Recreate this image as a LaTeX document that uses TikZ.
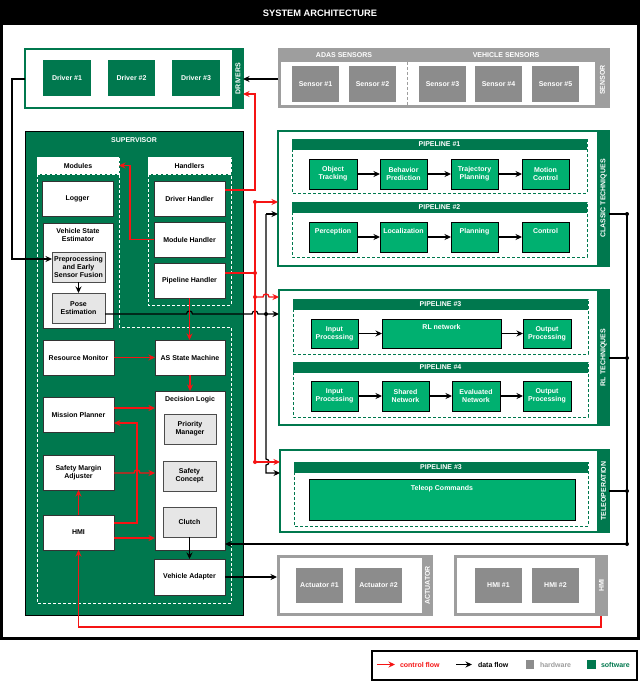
\documentclass[tikz,border=0pt]{standalone}
\usepackage{fontspec}
\setmainfont{Liberation Sans}
\usetikzlibrary{arrows.meta}
\definecolor{dgreen}{RGB}{0,120,78}
\definecolor{lgreen}{RGB}{0,176,112}
\definecolor{hwgray}{RGB}{140,140,140}
\definecolor{frgray}{RGB}{158,158,158}
\definecolor{boxgray}{RGB}{230,230,230}
\definecolor{ctrlred}{RGB}{245,20,20}
\begin{document}
\begin{tikzpicture}[x=1pt,y=-1pt,
  every node/.style={font=\bfseries\fontsize{7}{8.3}\selectfont, inner sep=0pt, outer sep=0pt, align=center},
  swbox/.style={fill=dgreen, text=white, minimum width=48pt, minimum height=36pt},
  hwbox/.style={fill=hwgray, text=white, minimum width=47pt, minimum height=36pt},
  wbox/.style={draw=black!80, fill=white, line width=0.8pt, minimum width=71pt, minimum height=35pt},
  gbox/.style={draw=black!70, fill=boxgray, line width=0.8pt, minimum width=53pt, minimum height=30pt},
  pbox/.style={draw=black, fill=lgreen, text=white, line width=0.8pt, minimum width=48pt, minimum height=30pt},
  phead/.style={fill=dgreen, text=white, minimum width=295pt, minimum height=11pt},
  gdash/.style={draw=dgreen, line width=1pt, dash pattern=on 3pt off 2pt},
  wdash/.style={draw=white, line width=1pt, dash pattern=on 3pt off 2pt},
  strip/.style={text=white, rotate=90},
  >={Stealth[length=6.5pt,width=6pt]},
  ctrl/.style={draw=ctrlred, line width=1.3pt, ->},
  cline/.style={draw=ctrlred, line width=1.3pt},
  dflow/.style={draw=black, line width=1.2pt, ->},
  dline/.style={draw=black, line width=1.2pt},
]
\useasboundingbox (0,0) rectangle (640,682);
\fill[white] (0,0) rectangle (640,682);
% outer frame and title
\fill[black] (0,0) rectangle (640,25);
\draw[line width=3pt] (1.5,1.5) rectangle (638.5,638.5);
\node[text=white, font=\bfseries\fontsize{9.3}{11}\selectfont] (title) at (320,13.5) {SYSTEM ARCHITECTURE};

% ---------- DRIVERS ----------
\node[draw=dgreen, line width=2pt, fill=white, minimum width=218pt, minimum height=59pt] (drivers) at (134,78.5) {};
\fill[dgreen] (232,48) rectangle (244,109);
\node[strip] at (238,78.5) {DRIVERS};
\node[swbox] (d1) at (67,78) {Driver \#1};
\node[swbox, minimum width=47pt] (d2) at (131.5,78) {Driver \#2};
\node[swbox] (d3) at (196,78) {Driver \#3};

% ---------- SENSORS ----------
\node[fill=frgray, minimum width=332pt, minimum height=60pt] (sensors) at (444,78) {};
\fill[white] (281,62) rectangle (595,105.5);
\draw[draw=frgray, line width=1pt, dash pattern=on 3pt off 2pt] (407,62) -- (407,105.5);
\node[text=white] (adas) at (344,55) {ADAS SENSORS};
\node[text=white] (vehs) at (506,55) {VEHICLE SENSORS};
\node[strip] at (602.5,80) {SENSOR};
\node[hwbox] (s1) at (315.5,84) {Sensor \#1};
\node[hwbox] (s2) at (372.5,84) {Sensor \#2};
\node[hwbox] (s3) at (442.5,84) {Sensor \#3};
\node[hwbox] (s4) at (498.5,84) {Sensor \#4};
\node[hwbox] (s5) at (555.5,84) {Sensor \#5};

% ---------- SUPERVISOR ----------
\node[draw=black, line width=0.8pt, fill=dgreen, minimum width=218pt, minimum height=484pt] (sup) at (134,373) {};
\node[text=white] (suplab) at (134,140) {SUPERVISOR};
\node[fill=white, wdash, minimum width=82pt, minimum height=17pt] (modhdr) at (78,165.5) {Modules};
\node[fill=white, wdash, minimum width=83pt, minimum height=17pt] (hdlhdr) at (189.5,165.5) {Handlers};
\draw[wdash] (37,174) -- (37,603) -- (231,603) -- (231,327) -- (119,327) -- (119,174);
\draw[wdash] (148,174) -- (148,305) -- (231,305) -- (231,174);

\node[wbox] (logger) at (77.5,198.5) {Logger};
\node[wbox, minimum width=70pt, minimum height=105pt,
  label={[anchor=north,yshift=-5pt]north:Vehicle State\\Estimator}] (vse) at (78,275.5) {};
\node[gbox] (prep) at (78.5,267) {Preprocessing\\and Early\\Sensor Fusion};
\node[gbox] (pose) at (78.5,308) {Pose\\Estimation};
\node[wbox] (drvh) at (189.5,198.5) {Driver Handler};
\node[wbox] (modh) at (189.5,239.5) {Module Handler};
\node[wbox] (pipeh) at (189.5,280.5) {Pipeline Handler};
\node[wbox] (rmon) at (78.5,357.5) {Resource Monitor};
\node[wbox, minimum width=70pt] (asm) at (190,357.5) {AS State Machine};
\node[wbox] (mplan) at (78.5,414.5) {Mission Planner};
\node[wbox] (sma) at (78.5,472.5) {Safety Margin\\Adjuster};
\node[wbox] (hmi) at (78.5,532.5) {HMI};
\node[wbox, minimum width=70pt, minimum height=159pt,
  label={[anchor=north,yshift=-5.5pt]north:Decision Logic}] (dlogic) at (190,470.5) {};
\node[gbox, minimum width=52pt] (prio) at (190,429) {Priority\\Manager};
\node[gbox] (safety) at (189.5,476) {Safety\\Concept};
\node[gbox] (clutch) at (189.5,522) {Clutch};
\node[wbox, minimum height=36pt] (vadapt) at (189.5,577) {Vehicle Adapter};

% ---------- CLASSIC TECHNIQUES ----------
\node[draw=dgreen, line width=2pt, fill=white, minimum width=331pt, minimum height=135pt] (classic) at (443.5,198.5) {};
\fill[dgreen] (597,130) rectangle (610,267);
\node[strip] at (603.5,198.5) {CLASSIC TECHNIQUES};
\draw[gdash] (292,139) rectangle (587,193);
\node[phead] (p1h) at (439.5,144.5) {PIPELINE \#1};
\node[pbox] (ot) at (333,174) {Object\\Tracking};
\node[pbox, minimum width=47pt] (bp) at (403.5,174) {Behavior\\Prediction};
\node[pbox, minimum width=47pt] (tp) at (474.5,174) {Trajectory\\Planning};
\node[pbox, minimum width=47pt] (mc) at (545.5,174) {Motion\\Control};
\draw[gdash] (292,202) rectangle (587,257);
\node[phead] (p2h) at (439.5,207.5) {PIPELINE \#2};
\node[pbox, label={[anchor=north,yshift=-6pt,text=white]north:Perception}] (perc) at (333,237) {};
\node[pbox, minimum width=47pt, label={[anchor=north,yshift=-6pt,text=white]north:Localization}] (loc) at (403.5,237) {};
\node[pbox, minimum width=47pt, label={[anchor=north,yshift=-6pt,text=white]north:Planning}] (plan) at (474.5,237) {};
\node[pbox, minimum width=47pt, label={[anchor=north,yshift=-6pt,text=white]north:Control}] (ctl) at (545.5,237) {};

% ---------- RL TECHNIQUES ----------
\node[draw=dgreen, line width=2pt, fill=white, minimum width=330pt, minimum height=135pt] (rl) at (444,357.5) {};
\fill[dgreen] (597,289) rectangle (610,426);
\node[strip] at (603.5,357.5) {RL TECHNIQUES};
\draw[gdash] (293,299) rectangle (588,354);
\node[phead] (p3h) at (440.5,304) {PIPELINE \#3};
\node[pbox, minimum width=47pt, minimum height=29pt] (ip1) at (334.5,333.5) {Input\\Processing};
\node[pbox, minimum width=119pt, minimum height=29pt, label={[anchor=north,yshift=-5.5pt,text=white]north:RL network}] (rlnet) at (441.5,333.5) {};
\node[pbox, minimum height=29pt] (op1) at (547,333.5) {Output\\Processing};
\draw[gdash] (293,362) rectangle (588,417);
\node[phead] (p4h) at (440.5,367.5) {PIPELINE \#4};
\node[pbox, minimum width=47pt] (ip2) at (334.5,396) {Input\\Processing};
\node[pbox, minimum width=47pt] (sn) at (405.5,396) {Shared\\Network};
\node[pbox] (en) at (476,396) {Evaluated\\Network};
\node[pbox] (op2) at (547,396) {Output\\Processing};

% ---------- TELEOPERATION ----------
\node[draw=dgreen, line width=2pt, fill=white, minimum width=329pt, minimum height=82pt] (teleop) at (444.5,491) {};
\fill[dgreen] (597,449) rectangle (610,533);
\node[strip] at (603.5,491) {TELEOPERATION};
\draw[gdash] (294,462) rectangle (588,526);
\node[phead, minimum width=294pt] (p5h) at (441,467.5) {PIPELINE \#3};
\node[pbox, minimum width=266pt, minimum height=41pt, label={[anchor=north,yshift=-6pt,text=white]north:Teleop Commands}] (tcmd) at (442,499.5) {};

% ---------- ACTUATOR ----------
\node[fill=frgray, minimum width=156pt, minimum height=61pt] (actuator) at (355,585.5) {};
\fill[white] (280,558) rectangle (422,613);
\node[strip] at (427.5,585.5) {ACTUATOR};
\node[hwbox, minimum height=35pt] (act1) at (319.5,585.5) {Actuator \#1};
\node[hwbox, minimum height=35pt] (act2) at (378.5,585.5) {Actuator \#2};

% ---------- HMI hardware ----------
\node[fill=frgray, minimum width=154pt, minimum height=61pt] (hmihw) at (531,585.5) {};
\fill[white] (457,558) rectangle (595,613);
\node[strip] at (601.5,585.5) {HMI};
\node[hwbox, minimum height=35pt] (hmi1) at (498.5,585.5) {HMI \#1};
\node[hwbox, minimum height=35pt] (hmi2) at (555.5,585.5) {HMI \#2};

% ---------- junction coordinates ----------
\coordinate (jr1) at (255,202);
\coordinate (jr2) at (255,273);
\coordinate (jr3) at (255,297);
\coordinate (jr4) at (255,462);
\coordinate (jb) at (266,314);
\coordinate (jb0) at (266,214);
\coordinate (jk1) at (627,214);
\coordinate (jk2) at (627,358);
\coordinate (jk3) at (627,491);
\coordinate (jk4) at (627,544);

% ---------- connectors: pipelines ----------
\foreach \a/\b in {ot/bp,bp/tp,tp/mc,perc/loc,loc/plan,plan/ctl,ip1/rlnet,rlnet/op1,ip2/sn,sn/en,en/op2}
  \draw[dflow] (\a.east) -- (\b.west);

% ---------- data flow ----------
\draw[dflow] (sensors.west |- 0,79) -- (drivers.east |- 0,79);
\draw[dflow] (drivers.west |- 0,79) -- (12,79) |- (prep.west |- 0,259);
\draw[dflow] (prep.south) -- (pose.north);
\draw[dflow] (pose.east |- 0,314) -- (186.5,314) .. controls (186.5,310) and (192.5,310) .. (192.5,314)
   -- (252,314) .. controls (252,310) and (258,310) .. (258,314) -- (rl.west |- 0,314);
\draw[dflow] (jb0) -- (classic.west |- jb0);
\draw[dflow] (jb0) -- (266,459) .. controls (270,459) and (270,465) .. (266,465) -- (266,473) -- (teleop.west |- 0,473);
\draw[dline] (classic.east |- jk1) -- (jk1) -- (jk4);
\draw[dline] (rl.east |- jk2) -- (jk2);
\draw[dline] (teleop.east |- jk3) -- (jk3);
\draw[dflow] (jk4) -- (dlogic.east |- jk4);
\draw[dflow] (clutch.south) -- (vadapt.north);
\draw[dflow] (vadapt.east) -- (vadapt.east -| actuator.west);

% ---------- control flow ----------
\draw[ctrl] (drvh.east |- 0,190) -- (255,190) -- (255,94) -- (drivers.east |- 0,94);
\draw[ctrl] (modh.west) -- (modh.west -| 130,0) |- (modhdr.east);
\draw[cline] (pipeh.east |- jr2) -- (jr2);
\draw[cline] (jr1) -- (jr4);
\draw[ctrl] (jr1) -- (classic.west |- jr1);
\draw[ctrl] (jr3) -- (263,297) .. controls (263,293) and (269,293) .. (269,297) -- (rl.west |- jr3);
\draw[ctrl] (jr4) -- (teleop.west |- jr4);
\draw[ctrl] (pipeh.south) -- (pipeh.south |- asm.north);
\draw[ctrl] (rmon.east) -- (asm.west);
\draw[ctrl] (asm.south) -- (asm.south |- dlogic.north);
\draw[ctrl] (mplan.east |- 0,408) -- (dlogic.west |- 0,408);
\draw[ctrl] (sma.east |- 0,473) -- (134,473) .. controls (134,469) and (140,469) .. (140,473) -- (dlogic.west |- 0,473);
\draw[ctrl] (hmi.east |- 0,523) -- (137,523) |- (mplan.east |- 0,423);
\draw[ctrl] (hmi.east |- 0,538) -- (dlogic.west |- 0,538);
\draw[ctrl] (hmi.north) -- (sma.south);
\draw[ctrl] (hmihw.south -| 601,0) -- (601,627) -| (hmi.south);

% ---------- dots ----------
\foreach \p in {jr1,jr2,jr3,jr4} \fill[ctrlred] (\p) circle[radius=2pt];
\foreach \p in {jb,jk1,jk2,jk3,jk4} \fill[black] (\p) circle[radius=2pt];

% ---------- legend ----------
\node[draw=black, line width=2pt, minimum width=265pt, minimum height=29pt] (legend) at (504,665) {};
\coordinate (lr1) at (377,664.5);
\coordinate (lr2) at (395,664.5);
\coordinate (lb1) at (456,664.5);
\coordinate (lb2) at (472,664.5);
\draw[ctrl] (lr1) -- (lr2);
\node[text=ctrlred, anchor=west] (lctrl) at (400,664.5) {control flow};
\draw[dflow] (lb1) -- (lb2);
\node[anchor=west] (ldata) at (478,664.5) {data flow};
\node[fill=hwgray, minimum width=8.5pt, minimum height=9pt] (lhw) at (530,664.5) {};
\node[text=hwgray!85, anchor=west] (lhwt) at (540,664.5) {hardware};
\node[fill=dgreen, minimum width=9pt, minimum height=9pt] (lsw) at (591.5,664.5) {};
\node[text=dgreen, anchor=west] (lswt) at (601,664.5) {software};
\end{tikzpicture}
\end{document}
